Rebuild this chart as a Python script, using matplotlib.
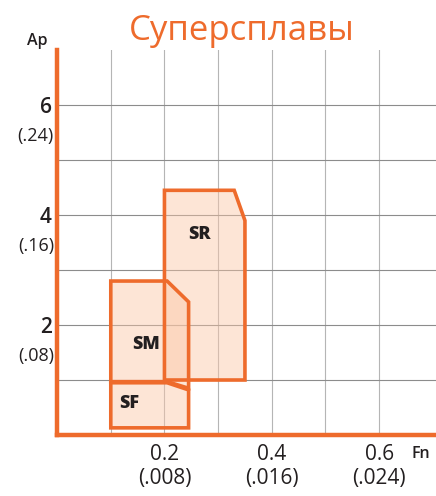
import matplotlib.pyplot as plt
from matplotlib.patches import Polygon

# chip-breaker regions (Fn, Ap)
regions = ['SR', 'SM', 'SF']
sr_pts = [(0.2, 1.0), (0.2, 4.45), (0.33, 4.45), (0.35, 3.9), (0.35, 1.0)]
sm_pts = [(0.1, 0.97), (0.1, 2.8), (0.205, 2.8), (0.245, 2.42), (0.245, 0.85), (0.205, 0.97)]
sf_pts = [(0.1, 0.13), (0.1, 0.95), (0.205, 0.95), (0.245, 0.82), (0.245, 0.13)]
label_pos = [(0.265, 3.65), (0.165, 1.65), (0.135, 0.57)]

x_ticks = [0.2, 0.4, 0.6]
x_inch = ['(.008)', '(.016)', '(.024)']
y_ticks = [2, 4, 6]
y_inch = ['(.08)', '(.16)', '(.24)']

orange = '#ee6b2c'
fill = '#fbc6a6'
dark = '#231f20'

fig = plt.figure(figsize=(4.36, 4.96), dpi=100)
ax = fig.add_axes([0.131, 0.123, 0.869, 0.776])
ax.set_xlim(0, 0.706)
ax.set_ylim(0, 7)

for x in [0.1, 0.2, 0.3, 0.4, 0.5, 0.6]:
    ax.axvline(x, color='#b5b5b5', lw=0.8, zorder=0)
for y in [1, 2, 3, 4, 5, 6]:
    ax.axhline(y, color='#8c8c8c', lw=0.8, zorder=0)

for pts in [sr_pts, sm_pts, sf_pts]:
    ax.add_patch(Polygon(pts, closed=True, facecolor=fill, alpha=0.45, edgecolor='none', zorder=1))
    ax.add_patch(Polygon(pts, closed=True, facecolor='none', edgecolor=orange, lw=2.6,
                         joinstyle='miter', zorder=2))

for name, (x, y) in zip(regions, label_pos):
    ax.text(x, y, name, fontsize=13, fontweight='heavy', color=dark,
            ha='center', va='center', family='Open Sans', zorder=3)

for s in ['top', 'right']:
    ax.spines[s].set_visible(False)
for s in ['left', 'bottom']:
    ax.spines[s].set_color(orange)
    ax.spines[s].set_linewidth(3.2)

ax.set_xticks([])
ax.set_yticks([])

for x, lab in zip(x_ticks, x_inch):
    ax.text(x, -0.16, f'{x:.1f}', fontsize=15, ha='center', va='top',
            color=dark, family='Open Sans')
    ax.text(x, -0.6, lab, fontsize=15, ha='center', va='top',
            color=dark, family='Open Sans')
for y, lab in zip(y_ticks, y_inch):
    ax.text(-0.01, y - 0.05, str(y), fontsize=15, fontweight='semibold', ha='right', va='center',
            color=dark, family='Open Sans')
    ax.text(-0.006, y - 0.57, lab, fontsize=13, ha='right', va='center',
            color=dark, family='Open Sans')

ax.text(-0.017, 7.02, 'Ap', fontsize=11.5, fontweight='semibold', ha='right', va='bottom',
        color=dark, family='Open Sans')
ax.text(0.678, -0.2, 'Fn', fontsize=11.5, fontweight='semibold', ha='center', va='top',
        color=dark, family='Open Sans')

fig.text(0.555, 0.937, 'Суперсплавы', fontsize=25, color=orange,
         ha='center', va='center', family='Open Sans')

fig.savefig('out.png', dpi=100)
